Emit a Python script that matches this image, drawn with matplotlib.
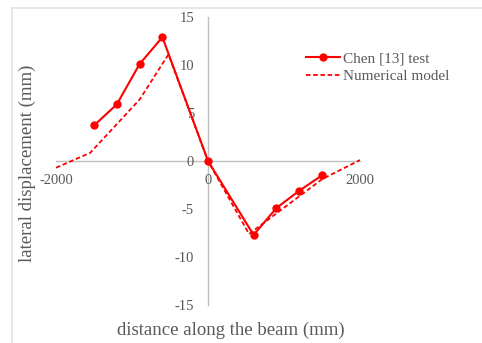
import matplotlib
matplotlib.use("Agg")
import matplotlib.pyplot as plt
from matplotlib.lines import Line2D

# Data
test_x = [-1500, -1200, -900, -600, 0, 600, 900, 1200, 1500]
test_y = [3.7, 5.9, 10.1, 12.9, 0.0, -7.7, -4.9, -3.1, -1.5]
model_x = [-2000, -1550, -900, -520, 0, 540, 1500, 2000]
model_y = [-0.7, 0.85, 6.4, 11.1, 0.0, -7.6, -1.9, 0.1]
x_ticks = [-2000, 0, 2000]
y_ticks = [-15, -10, -5, 0, 5, 10, 15]

plt.rcParams['font.family'] = ['Liberation Serif', 'DejaVu Serif']
plt.rcParams['axes.unicode_minus'] = False
gray = '#595959'
red = '#FF0000'

fig = plt.figure(figsize=(4.82, 3.43), dpi=100)
W, H = 482, 343
ax = fig.add_axes([56 / W, 1 - 305 / H, (360 - 56) / W, (305 - 17) / H])

ax.plot(model_x, model_y, color=red, lw=1.3, ls=(0, (2.5, 1.5)), label='Numerical model', zorder=2)
ax.plot(test_x, test_y, color=red, lw=1.5, marker='o', ms=5, label='Chen [13] test', zorder=3)

ax.set_xlim(-2000, 2000)
ax.set_ylim(-15, 15)
ax.set_xticks(x_ticks)
ax.set_yticks(y_ticks)
for s in ['top', 'right']:
    ax.spines[s].set_visible(False)
ax.spines['left'].set_position('zero')
ax.spines['bottom'].set_position('zero')
for s in ['left', 'bottom']:
    ax.spines[s].set_color('#BFBFBF')
    ax.spines[s].set_linewidth(1.0)
    ax.spines[s].set_zorder(1)
ax.tick_params(axis='both', length=0, labelsize=10.5, labelcolor=gray)
ax.tick_params(axis='y', pad=10)
ax.tick_params(axis='x', pad=9)
ax.patch.set_alpha(0)

fig.text(231 / W, 1 - 330 / H, 'distance along the beam (mm)', ha='center', va='center',
         fontsize=13.5, color=gray)
fig.text(27 / W, 1 - 163 / H, 'lateral displacement (mm)', ha='center', va='center',
         rotation=90, fontsize=13.5, color=gray)

handles = [Line2D([], [], color=red, lw=1.5, marker='o', ms=5),
           Line2D([], [], color=red, lw=1.3, ls=(0, (2.5, 1.5)))]
leg = fig.legend(handles, ['Chen [13] test', 'Numerical model'], loc='upper left',
                 bbox_to_anchor=(300 / W, 1 - 46 / H), frameon=False, fontsize=11,
                 handlelength=2.2, handletextpad=0.2, labelspacing=0.25, borderaxespad=0)
for t in leg.get_texts():
    t.set_color(gray)

# outer border
fig.add_artist(Line2D([12 / W, 12 / W], [0, 1 - 8 / H], transform=fig.transFigure,
                      color='#E3E3E3', lw=1.2))
fig.add_artist(Line2D([12 / W, 1], [1 - 8 / H, 1 - 8 / H], transform=fig.transFigure,
                      color='#E3E3E3', lw=1.2))

fig.savefig('out.png', dpi=100)
